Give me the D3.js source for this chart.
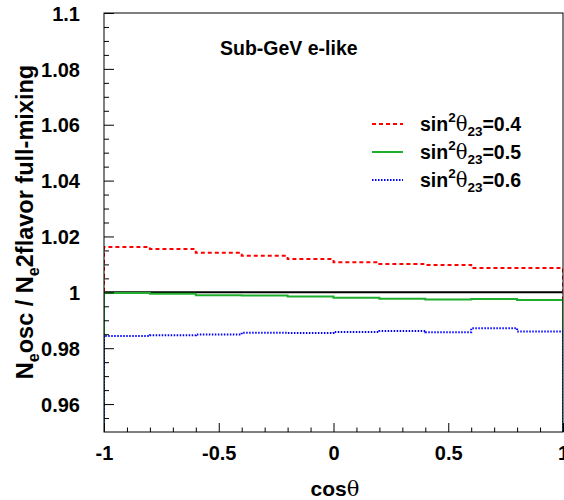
<!DOCTYPE html>
<html>
<head>
<meta charset="utf-8">
<script src="https://cdn.jsdelivr.net/npm/d3@7.9.0/dist/d3.min.js"></script>
<style>
  body { margin: 0; background: #fff; }
  svg { display: block; font-family: "Liberation Sans", Arial, sans-serif; font-weight: bold; }
  .tick text { font-family: "Liberation Sans", Arial, sans-serif; font-weight: bold; fill: #000; }
  .tick line { stroke: #000; stroke-width: 1; }
</style>
</head>
<body>
<svg id="chart" width="564" height="500"></svg>
<script>
// bin edges in cos(theta)
const cosBins = [-1, -0.8, -0.6, -0.4, -0.2, 0, 0.2, 0.4, 0.6, 0.8, 1];

// ratio per bin
const ratio04 = [1.0162, 1.0155, 1.0142, 1.0131, 1.0119, 1.0108, 1.0101, 1.0098, 1.0087, 1.0087];
const ratio05 = [0.9998, 0.9995, 0.9990, 0.9989, 0.9985, 0.9981, 0.9977, 0.9974, 0.9976, 0.9973];
const ratio06 = [0.9844, 0.9846, 0.9849, 0.9855, 0.9854, 0.9858, 0.9862, 0.9857, 0.9871, 0.9860];

const seriesLabels = ["0.4", "0.5", "0.6"];

const xMajor = [-1, -0.5, 0, 0.5, 1];
const xMinor = [-0.9, -0.8, -0.7, -0.6, -0.4, -0.3, -0.2, -0.1, 0.1, 0.2, 0.3, 0.4, 0.6, 0.7, 0.8, 0.9];
const yMajor = [0.96, 0.98, 1, 1.02, 1.04, 1.06, 1.08, 1.1];
const yMinor = [0.955, 0.965, 0.97, 0.975, 0.985, 0.99, 0.995, 1.005, 1.01, 1.015, 1.025, 1.03, 1.035,
                1.045, 1.05, 1.055, 1.065, 1.07, 1.075, 1.085, 1.09, 1.095];

const svg = d3.select('#chart');
const frame = { left: 104, right: 563, top: 13, bottom: 432 };

const x = d3.scaleLinear().domain([-1, 1]).range([frame.left, frame.right]);
const y = d3.scaleLinear().domain([0.95, 1.1]).range([frame.bottom, frame.top]);

svg.append('clipPath').attr('id', 'frameClip')
  .append('rect')
  .attr('x', frame.left).attr('y', frame.top)
  .attr('width', frame.right - frame.left).attr('height', frame.bottom - frame.top);

// histogram outline, dropping to the baseline at both ends like ROOT does
function histPath(vals) {
  const pts = [[x(cosBins[0]), y(0.9)]];
  vals.forEach((v, i) => {
    pts.push([x(cosBins[i]), y(v)]);
    pts.push([x(cosBins[i + 1]), y(v)]);
  });
  pts.push([x(cosBins[cosBins.length - 1]), y(0.9)]);
  return d3.line()(pts);
}

const styles = [
  { vals: ratio04, color: '#ff0000', dash: '4,3' },
  { vals: ratio05, color: '#1fae2c', dash: null },
  { vals: ratio06, color: '#0000ff', dash: '1.5,1.5' }
];

const plot = svg.append('g').attr('clip-path', 'url(#frameClip)');

// reference line at 1
plot.append('line')
  .attr('x1', x(-1)).attr('x2', x(1))
  .attr('y1', y(1)).attr('y2', y(1))
  .attr('stroke', '#000').attr('stroke-width', 2);

styles.forEach(s => {
  plot.append('path')
    .attr('d', histPath(s.vals))
    .attr('fill', 'none')
    .attr('stroke', s.color)
    .attr('stroke-width', 2)
    .attr('stroke-dasharray', s.dash);
});

// frame
svg.append('rect')
  .attr('x', frame.left).attr('y', frame.top)
  .attr('width', frame.right - frame.left).attr('height', frame.bottom - frame.top)
  .attr('fill', 'none').attr('stroke', '#000').attr('stroke-width', 1);

const fmt = d => String(d);

// y axis: ticks point inward
const yAxisMajor = svg.append('g')
  .attr('transform', `translate(${frame.left},0)`)
  .call(d3.axisLeft(y).tickValues(yMajor).tickSize(-10).tickPadding(24).tickFormat(fmt));
yAxisMajor.select('.domain').remove();
yAxisMajor.selectAll('text').attr('font-size', 20).attr('dy', '0.36em');

const yAxisMinor = svg.append('g')
  .attr('transform', `translate(${frame.left},0)`)
  .call(d3.axisLeft(y).tickValues(yMinor).tickSize(-5).tickFormat(''));
yAxisMinor.select('.domain').remove();

// x axis
const xAxisMajor = svg.append('g')
  .attr('transform', `translate(0,${frame.bottom})`)
  .call(d3.axisBottom(x).tickValues(xMajor).tickSize(-9).tickPadding(14).tickFormat(fmt));
xAxisMajor.select('.domain').remove();
xAxisMajor.selectAll('text').attr('font-size', 20);

const xAxisMinor = svg.append('g')
  .attr('transform', `translate(0,${frame.bottom})`)
  .call(d3.axisBottom(x).tickValues(xMinor).tickSize(-4.5).tickFormat(''));
xAxisMinor.select('.domain').remove();

// axis titles
const xTitle = svg.append('text')
  .attr('x', 335).attr('y', 496)
  .attr('text-anchor', 'middle')
  .attr('font-size', 21);
xTitle.append('tspan').text('cos');
xTitle.append('tspan').attr('font-weight', 'normal').attr('font-family', 'DejaVu Serif, serif').text('θ');

const yTitle = svg.append('text')
  .attr('transform', 'translate(33,222) rotate(-90)')
  .attr('text-anchor', 'middle')
  .attr('font-size', 23.5);
yTitle.append('tspan').text('N');
yTitle.append('tspan').attr('font-size', 16).attr('dy', 6).text('e');
yTitle.append('tspan').attr('dy', -6).text('osc / N');
yTitle.append('tspan').attr('font-size', 16).attr('dy', 6).text('e');
yTitle.append('tspan').attr('dy', -6).text('2flavor full-mixing');

// plot label
svg.append('text')
  .attr('x', 220).attr('y', 55)
  .attr('font-size', 19.5)
  .text('Sub-GeV e-like');

// legend
const legend = svg.append('g');
styles.forEach((s, i) => {
  const ly = 124 + i * 28;
  legend.append('line')
    .attr('x1', 372).attr('x2', 403)
    .attr('y1', ly).attr('y2', ly)
    .attr('stroke', s.color).attr('stroke-width', 2)
    .attr('stroke-dasharray', s.dash);
  const t = legend.append('text')
    .attr('x', 420).attr('y', ly + 7)
    .attr('font-size', 19.5);
  t.append('tspan').text('sin');
  t.append('tspan').attr('font-size', 13.5).attr('dy', -9).text('2');
  t.append('tspan').attr('dy', 9).attr('font-weight', 'normal').attr('font-family', 'DejaVu Serif, serif').text('θ');
  t.append('tspan').attr('font-size', 13.5).attr('dy', 5).text('23');
  t.append('tspan').attr('dy', -5).text('=' + seriesLabels[i]);
});
</script>
</body>
</html>
